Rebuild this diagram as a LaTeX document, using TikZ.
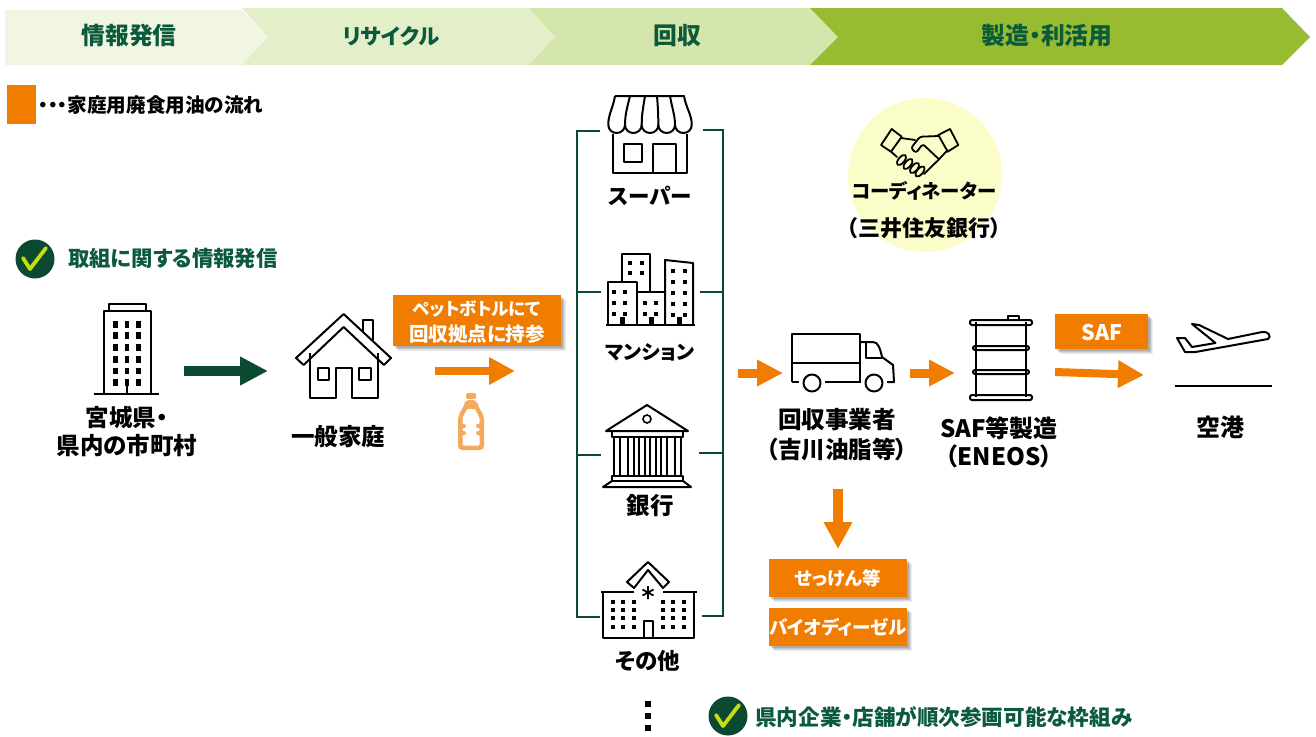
\documentclass[tikz,border=0pt]{standalone}
\usepackage{fontspec}
\setmainfont{Noto Sans CJK JP}[RawFeature={+palt}]
\usetikzlibrary{arrows.meta}
\definecolor{dkgreen}{HTML}{0B4A30}
\definecolor{txgreen}{HTML}{0B5A3C}
\definecolor{orange1}{HTML}{F07C00}
\definecolor{ch1}{HTML}{F0F6E2}
\definecolor{ch2}{HTML}{E3EFC8}
\definecolor{ch3}{HTML}{D5E6AC}
\definecolor{ch4}{HTML}{97BC32}
\definecolor{yellowc}{HTML}{FBFDC8}
\definecolor{chkc}{HTML}{C8DC14}
\definecolor{bottle}{HTML}{F4A95F}
\newcommand\fs[2]{\bfseries\fontsize{#1}{#2}\selectfont}
\tikzset{
  lbl/.style={inner sep=0pt,align=center,text=black,font=\fs{23.5}{28}},
  head/.style={inner sep=0pt,text=txgreen,font=\fs{23.8}{26}},
  note/.style={inner sep=0pt,text=txgreen,font=\fs{21.4}{24}},
  obox/.style={inner sep=0pt,align=center,text=white,font=\fs{18.5}{25}},
  icon/.style={line width=2pt,draw=black,line join=round,fill=none},
  brk/.style={line width=2.5pt,draw=dkgreen},
  oflow/.style={line width=8pt,draw=orange1,-{Triangle[length=26pt,width=26pt]}},
  gflow/.style={line width=10pt,draw=dkgreen,-{Triangle[length=28pt,width=27pt]}},
}
\newcommand\shbox[4]{% x1 y1 x2 y2
  \foreach \o/\op in {5/.07,4/.08,3/.10,2/.12}{\fill[black,opacity=\op] (#1+\o,#2+\o) rectangle (#3+\o,#4+\o);}
  \fill[orange1] (#1,#2) rectangle (#3,#4);}
\newcommand\chkmark[2]{%
  \begin{scope}[shift={(#1,#2)}]
    \fill[dkgreen] (0,0) circle[radius=19.5];
    \draw[chkc,line width=3.8pt,line cap=round,line join=round] (-12,-1) -- (-5,10) -- (11,-11);
  \end{scope}}
\begin{document}
\begin{tikzpicture}[x=1pt,y=-1pt]
\useasboundingbox (0,0) rectangle (1316,736);
% header
\fill[ch1] (5,10) -- (242,10) -- (268,37) -- (242,65) -- (5,65) -- cycle;
\fill[ch2] (242,8) -- (529,8) -- (555,37) -- (529,65) -- (242,65) -- (268,37) -- cycle;
\fill[ch3] (529,8) -- (810,8) -- (838,37) -- (810,65) -- (529,65) -- (555,37) -- cycle;
\fill[ch4] (810,8) -- (1282,8) -- (1310,37) -- (1282,65) -- (810,65) -- (838,37) -- cycle;
\node[head] (h1) at (129,36) {情報発信};
\node[head,font=\fs{21.5}{26}] (h2) at (391,36) {リサイクル};
\node[head] (h3) at (677,36) {回収};
\node[head] (h4) at (1047,36) {製造・利活用};
% legend
\fill[orange1] (7,85) rectangle (36,124);
\node[inner sep=0pt,anchor=west,font=\fs{19.6}{22}] (leg) at (38,105) {・・・家庭用廃食用油の流れ};
% notes
\chkmark{35}{259}
\node[note,anchor=west] (n1) at (68,258) {取組に関する情報発信};
\chkmark{728}{716}
\node[note,font=\fs{21.6}{24},anchor=west] (n2) at (755,717) {県内企業・店舗が順次参画可能な枠組み};
% office building
\draw[icon] (104,393) -- (104,311) -- (151,311) -- (151,393);
\draw[icon] (109,311) -- (109,304) -- (146,304) -- (146,311);
\draw[icon] (94,394) -- (159,394);
\foreach \yy in {324.3,335.7,347.3,359.3,371,382.7}\foreach \xx in {115.4,126.8,138.6}
  \fill (\xx-2.3,\yy-3.3) rectangle (\xx+2.3,\yy+3.3);
\draw[line width=2.5pt] (126.8,380) -- (126.8,394);
\node[lbl] (pref) at (127,431) {宮城県・\\県内の市町村};
% house
\draw[icon] (296,358) -- (343.6,314) -- (391,358) -- (384,365) -- (343.6,327) -- (303.6,365) -- cycle;
\draw[icon] (310,353) -- (310,398) -- (336,398) -- (336,368) -- (352,368) -- (352,398) -- (378,398) -- (378,353);
\draw[icon] (318,368) rectangle (329,380);
\draw[icon] (359,368) rectangle (371,380);
\draw[icon] (362.5,331) -- (362.5,320) -- (372.5,320) -- (372.5,340);
\node[lbl] (home) at (338,437) {一般家庭};
% green arrow
\coordinate (ga) at (184,371); \coordinate (gb) at (268,371);
\draw[gflow] (ga) -- (gb);
% orange box + arrow + bottle
\shbox{393}{295}{561}{346}
\node[obox,font=\fs{17.5}{25}] (pet) at (477,309) {ペットボトルにて};
\node[obox,font=\fs{19.5}{25}] (pet2) at (477,334) {回収拠点に持参};
\coordinate (oa) at (435,371); \coordinate (ob) at (515,371);
\draw[oflow] (oa) -- (ob);
\fill[bottle,rounded corners=1.5pt] (466,393) rectangle (476,399);
\fill[bottle,rounded corners=4pt] (465,400) -- (477,400) -- (477,404) -- (484,416) -- (484,450) -- (458,450) -- (458,416) -- (465,404) -- cycle;
\fill[white,rounded corners=1.2pt] (467,409) -- (475,409) -- (479.5,418) -- (479.5,424) -- (476,424) -- (476,428) -- (479.5,428) -- (479.5,431) -- (476,431) -- (476,435) -- (479.5,435) -- (479.5,445.5) -- (462.5,445.5) -- (462.5,435) -- (466,435) -- (466,431) -- (462.5,431) -- (462.5,428) -- (466,428) -- (466,424) -- (462.5,424) -- (462.5,418) -- cycle;
% brackets
\coordinate (lt) at (600,131); \coordinate (lb) at (600,617);
\coordinate (rt) at (703,130); \coordinate (rb) at (702,616);
\draw[brk] (lt) -- (577,131) -- (577,617) -- (lb);
\draw[brk] (rt) -- (723,130) -- (723,616) -- (rb);
\coordinate (l2) at (601,292); \coordinate (l3) at (601,455);
\coordinate (r2) at (700,292); \coordinate (r3) at (699,453);
\draw[brk] (577,292) -- (l2); \draw[brk] (577,455) -- (l3);
\draw[brk] (723,292) -- (r2); \draw[brk] (723,453) -- (r3);
% store
\draw[icon] (613,134) -- (613,173) -- (687,173) -- (687,134);
\draw[icon] (624,144) rectangle (642,162);
\draw[icon] (653,173) -- (653,144) -- (676,144) -- (676,173);
\draw[icon] (615,96) -- (684,96) .. controls (686,108) and (692,115) .. (691.7,125)
  arc[start angle=0,end angle=180,x radius=8.34,y radius=8] arc[start angle=0,end angle=180,x radius=8.34,y radius=8]
  arc[start angle=0,end angle=180,x radius=8.34,y radius=8] arc[start angle=0,end angle=180,x radius=8.34,y radius=8]
  arc[start angle=0,end angle=180,x radius=8.34,y radius=8] .. controls (608,115) and (613,108) .. (615,96);
\draw[icon] (630,96) .. controls (627,108) and (625,115) .. (625,125)
 (645,96) .. controls (643,108) and (641.7,115) .. (641.7,125)
 (657,96) .. controls (658,108) and (658.3,115) .. (658.3,125)
 (670,96) .. controls (672,108) and (675,115) .. (675,125);
\node[lbl,font=\fs{21.5}{28}] (super) at (650,196) {スーパー};
% apartments
\draw[icon] (622,282) -- (622,254) -- (650,254) -- (650,292);
\draw[icon] (608,325) -- (608,282) -- (637,282) -- (637,325);
\draw[icon] (637,292) -- (665,292);
\draw[icon] (665,325) -- (665,260) -- (693,263) -- (693,325);
\draw[icon] (606,325) -- (695,325);
\foreach \xx/\yy in {630/263,642/263,630/273,642/273,
  614/292,625/292,614/303,625/303,614/314,625/314,
  645/303,656/303,645/314,656/314,
  673/271,685/271,673/282,685/282,673/293,685/293,673/304,685/304,673/315,685/315}
  \fill (\xx-2,\yy-2) rectangle (\xx+2,\yy+2);
\foreach \xx in {622.5,651,679} \fill (\xx-2.5,317) rectangle (\xx+2.5,325);
\node[lbl,font=\fs{19.8}{28}] (mans) at (650,352) {マンション};
% bank
\draw[icon] (606,431) -- (647,405) -- (688,431) -- cycle;
\draw[line width=1.6pt] (647,419) circle[radius=4];
\draw[icon] (612,431) rectangle (683,437);
\foreach \xx in {617,631,642,653,664,678} {\draw[line width=1.5pt] (\xx-3,437) -- (\xx-3,476) (\xx+3,437) -- (\xx+3,476);}
\draw[icon] (612,476) rectangle (683,481);
\draw[icon] (612,481) -- (603,487) -- (691,487) -- (683,481);
\node[lbl] (bank) at (650,506) {銀行};
% school
\draw[icon] (648,562) -- (627,582) -- (634,588) -- (648,570) -- (663,588) -- (669,582) -- cycle;
\draw[icon] (601,592) -- (634,592) (663,592) -- (697,592);
\draw[icon] (603,592) -- (603,638) -- (694,638) -- (694,592);
\draw[icon] (644,638) -- (644,621) -- (653,621) -- (653,638);
\foreach \yy in {602,610,618,627}\foreach \xx in {613,623,634,663,673,684}
  \fill (\xx-2.2,\yy-2.2) rectangle (\xx+2.2,\yy+2.2);
\draw[line width=1.8pt] (648,586) -- (648,599) (642.5,589.5) -- (653.5,595.5) (642.5,595.5) -- (653.5,589.5);
\node[lbl,font=\fs{22.5}{28}] (other) at (648,661) {その他};
\foreach \yy in {704,716,728} \fill (645,\yy-3) rectangle (651,\yy+3);
% truck
\coordinate (ta) at (738,373); \coordinate (tb) at (783,373);
\draw[oflow,line width=9pt,-{Triangle[length=26pt,width=25pt]}] (ta) -- (tb);
\draw[icon] (792,382) -- (792,334) -- (860,334) -- (860,382);
\draw[icon] (792,363) -- (860,363);
\draw[icon] (860,342) -- (873,342) .. controls (878,342) and (880,348) .. (882,357) -- (893,365) -- (894,382) -- (887,382);
\draw[icon] (866,343) -- (866,358) -- (882,358);
\draw[icon] (792,382) -- (799,382) (825,382) -- (861,382);
\draw[icon] (812,383) circle[radius=8.5];
\draw[icon] (874,383) circle[radius=8.5];
\node[lbl,font=\fs{23.6}{30}] (coll) at (837,435) {回収事業者\\（吉川油脂等）};
% down arrow and boxes
\coordinate (da) at (838,489); \coordinate (db) at (838,549);
\draw[oflow,line width=10pt,-{Triangle[length=27pt,width=27pt]}] (da) -- (db);
\shbox{769}{559}{907}{597}
\node[obox] (soap) at (838,578) {せっけん等};
\shbox{769}{608}{907}{646}
\node[obox] (bdf) at (838,627) {バイオディーゼル};
% drum
\coordinate (ba) at (910,373); \coordinate (bb) at (955,373);
\draw[oflow,line width=9pt,-{Triangle[length=26pt,width=25pt]}] (ba) -- (bb);
\draw[icon] (976,322) -- (976,397) (1026,322) -- (1026,397);
\draw[icon,rounded corners=2pt] (970,320) rectangle (1032,325);
\draw[icon,rounded corners=2pt] (970,395) rectangle (1032,400);
\draw[icon,rounded corners=2pt] (973,346) rectangle (1029,350);
\draw[icon,rounded corners=2pt] (973,370) rectangle (1029,374);
\draw[icon] (1008,320) -- (1008,316) -- (1019,316) -- (1019,320);
\node[lbl,font=\fs{24}{28}] (saf) at (999,442) {SAF等製造\\（ENEOS）};
% SAF
\shbox{1055}{314}{1148}{349}
\node[obox,font=\fs{21.5}{25}] (safb) at (1102,332) {SAF};
\coordinate (sa) at (1055,372); \coordinate (sb) at (1144,375);
\draw[oflow] (sa) -- (sb);
% plane
\draw[icon] (1177,338) -- (1185,338) -- (1192,347) -- (1215.5,343) -- (1192,324) -- (1199,325) -- (1228,339) -- (1262,332) .. controls (1268,331) and (1272,336) .. (1268,339) -- (1195.5,352) -- (1185,352) -- cycle;
\coordinate (pa) at (1175,386); \coordinate (pb) at (1272,386);
\draw[line width=2pt] (pa) -- (pb);
\node[lbl,font=\fs{24}{28}] (airp) at (1220,427) {空港};
% coordinator
\fill[yellowc] (925,175) circle[radius=77];
\begin{scope}[line width=1.8pt,line join=round,line cap=round]
\draw (881,145) -- (891.7,129) -- (901.7,136.7) -- (891,151.7) -- cycle;
\draw (938.3,135) -- (950,129) -- (958.3,145) -- (947.7,151.7) -- cycle;
\draw (901,138) -- (915,140);
\draw[rounded corners=2.5pt] (939,136) -- (920,136.7) -- (911,148) -- (916,153) -- (922.7,144) -- (939,159.3);
\draw (947.7,150) -- (939,159.3) -- (924,174);
\draw (891,151.7) -- (897,157);
\foreach \cc in {(901.5,160),(908,164),(914.5,168),(920,171.5)}
  \draw[fill=yellowc] \cc ellipse[x radius=6.2,y radius=3,rotate=50];
\end{scope}
\node[inner sep=0pt,font=\fs{19.4}{24}] (co1) at (924,191) {コーディネーター};
\node[inner sep=0pt,font=\fs{22}{24}] (co2) at (924,228) {（三井住友銀行）};
\end{tikzpicture}
\end{document}
